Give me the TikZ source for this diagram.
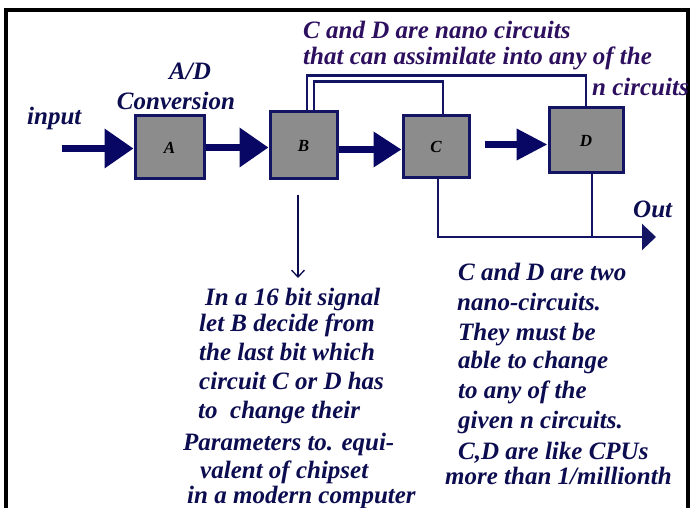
\documentclass[tikz,border=0pt]{standalone}
\usepackage{fontspec}
\setmainfont{Liberation Serif}
\usetikzlibrary{arrows.meta,calc}
\definecolor{navy}{RGB}{8,8,100}
\definecolor{boxedge}{RGB}{20,20,100}
\definecolor{boxfill}{RGB}{140,140,140}
\definecolor{txt}{RGB}{12,12,80}
\definecolor{toptxt}{RGB}{45,15,95}
\tikzset{
  blk/.style={draw=boxedge, fill=boxfill, line width=3pt, inner sep=0pt,
    font=\fontsize{17}{20}\selectfont\bfseries\itshape, text=black},
  fat/.style={draw=navy, line width=7pt, -{Triangle[length=29pt,width=38pt]}},
  conn/.style={draw=boxedge, line width=2.4pt},
  lbl/.style={anchor=base west, inner sep=0pt, text=txt,
    font=\fontsize{25}{28}\selectfont\bfseries\itshape},
  toplbl/.style={lbl, text=toptxt},
}
\begin{document}
\begin{tikzpicture}[x=1pt,y=-1pt]
\useasboundingbox (0,0) rectangle (691,508);
\fill[white] (0,0) rectangle (691,508);
\draw[line width=4.5pt, black] (6,512) -- (6,10) -- (688,10) -- (688,512);

% boxes
\node[blk, minimum width=69pt, minimum height=63pt] (A) at (169.5,147.5) {A};
\node[blk, minimum width=67pt, minimum height=67pt] (B) at (303.5,145.5) {B};
\node[blk, minimum width=66pt, minimum height=62pt] (C) at (436,147) {C};
\node[blk, minimum width=74pt, minimum height=65pt] (D) at (586,140.5) {D};

% fat arrows
\coordinate (in) at (62,148.5);
\draw[fat] (in) -- (in -| A.west);
\draw[fat] (A.east) -- (A.east -| B.west);
\draw[fat, -{Triangle[length=28pt,width=34pt]}] ([yshift=-4pt]B.east) -- ([yshift=-4pt]B.east -| C.west);
\draw[fat, -{Triangle[length=31pt,width=30pt]}] ([xshift=14pt,yshift=2.5pt]C.east) -- ([yshift=2.5pt]C.east -| D.west);

% feedback lines from B
\draw[conn] ([xshift=3.5pt]B.north) -- ++(0,-35) -| (D.north);
\draw[conn] ([xshift=10.5pt]B.north) -- ++(0,-29) -| ([xshift=7pt]C.north);

% output
\coordinate (outtip) at (656,237);
\draw[conn, -{Triangle[length=14pt,width=26pt]}] ([xshift=2pt]C.south) |- (outtip);
\draw[conn] ([xshift=6pt]D.south) -- ([xshift=6pt]D.south |- outtip);

% thin arrow down from B
\coordinate (bdown) at ([xshift=-5.5pt,yshift=-14pt]B.south);
\coordinate (bnote) at (bdown |- 0,278);
\draw[txt, line width=1.3pt, -{Straight Barb[length=7pt,width=13pt]}] (bdown) -- (bnote);

% labels
\node[lbl] (tin) at (27,125) {input};
\node[lbl, anchor=base] (tad) at (190,80) {A/D};
\node[lbl, anchor=base] (tconv) at (176,110) {Conversion};
\node[lbl] (tout) at (633,218) {Out};

\node[toplbl] (top1) at (303,39) {C and D are nano circuits};
\node[toplbl] (top2) at (303,65) {that can assimilate into any of the};
\node[toplbl] (top3) at (592,96) {n circuits};

% left note
\node[lbl] (l1) at (205,305) {In a 16 bit signal};
\node[lbl] (l2) at (199,331) {let B decide from};
\node[lbl] (l3) at (199,360) {the last bit which};
\node[lbl] (l4) at (199,389) {circuit C or D has};
\node[lbl] (l5) at (198,418) {to\ \ change their};
\node[lbl] (l6) at (183,450) {Parameters to. equi-};
\node[lbl] (l7) at (200,478) {valent of chipset};
\node[lbl] (l8) at (187,503) {in a modern computer};

% right note
\node[lbl] (r1) at (458,280) {C and D are two};
\node[lbl] (r2) at (457,310) {nano-circuits.};
\node[lbl] (r3) at (458,340) {They must be};
\node[lbl] (r4) at (458,368) {able to change};
\node[lbl] (r5) at (458,398) {to any of the};
\node[lbl] (r6) at (458,428) {given n circuits.};
\node[lbl] (r7) at (458,459) {C,D are like CPUs};
\node[lbl] (r8) at (445,484) {more than 1/millionth};
\end{tikzpicture}
\end{document}
